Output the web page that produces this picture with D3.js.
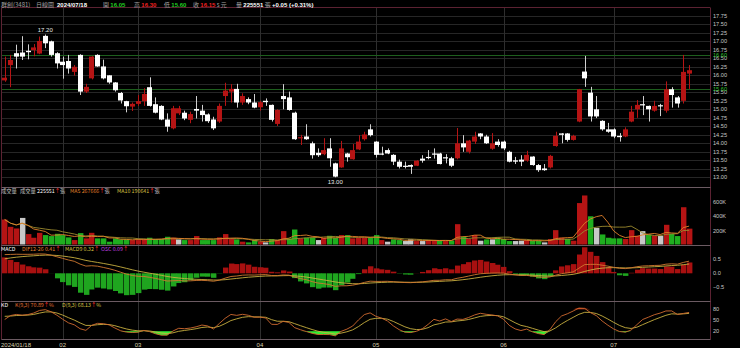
<!DOCTYPE html>
<html><head><meta charset="utf-8">
<script src="https://cdn.jsdelivr.net/npm/d3@7/dist/d3.min.js"></script>
<style>html,body{margin:0;padding:0;background:#000;}svg{display:block;}</style>
</head><body>
<svg id="c" width="740" height="348"></svg>
<script>
// ---------------- DATA ----------------
const opens = [15.85,16.30,16.65,16.67,16.72,16.74,16.64,17.16,17.00,16.65,
16.40,16.42,16.10,16.60,15.52,15.91,16.60,16.26,16.00,15.79,
15.48,15.24,15.08,15.16,15.24,15.65,15.15,15.10,14.70,14.44,
14.88,14.90,14.69,15.01,14.96,14.85,14.70,14.64,15.39,15.52,
15.60,15.20,15.30,15.20,15.06,15.25,15.13,14.57,15.39,15.35,
14.90,14.16,14.20,14.00,13.72,13.68,13.85,13.41,13.29,13.70,
13.53,13.82,14.12,14.41,14.05,13.70,13.80,13.66,13.46,13.34,
13.36,13.34,13.55,13.60,13.70,13.70,13.59,13.56,13.56,14.00,
13.75,14.05,14.29,14.20,13.84,14.05,14.05,13.75,13.50,13.52,
13.49,13.61,13.36,13.26,13.29,13.92,14.29,14.29,14.10,14.64,
16.11,15.49,15.00,14.66,14.41,14.41,14.22,14.20,14.64,15.00,
15.15,15.10,14.96,15.12,14.96,15.59,15.35,15.25,16.05];
const highs = [16.55,16.60,16.90,17.15,16.91,16.92,17.14,17.20,17.02,16.68,
16.55,16.60,16.30,16.62,15.75,16.56,16.62,16.46,16.00,15.80,
15.51,15.25,15.20,15.42,15.62,15.94,15.35,15.12,14.88,15.10,
15.10,14.96,14.93,15.39,15.13,14.88,14.78,15.17,15.78,15.74,
15.75,15.47,15.35,15.45,15.25,15.32,15.14,15.00,15.74,15.52,
14.93,14.25,14.56,14.05,13.85,14.15,14.15,13.43,14.07,13.72,
13.98,14.24,14.34,14.56,14.06,13.90,13.85,13.68,13.52,13.46,
13.38,13.50,13.65,13.80,13.85,13.72,13.68,13.60,14.45,14.24,
14.10,14.34,14.30,14.25,14.30,14.12,14.08,13.78,13.60,13.65,
13.78,13.62,13.39,13.39,13.66,14.34,14.30,14.30,14.25,15.60,
16.57,15.66,15.39,14.68,14.60,14.44,14.30,14.47,15.10,15.27,
15.39,15.11,15.25,15.16,15.82,15.65,15.39,16.60,16.30];
const lows = [15.81,15.65,16.20,16.45,16.47,16.56,16.62,16.80,16.55,16.20,
15.90,16.05,15.99,15.42,15.48,15.88,16.25,15.88,15.75,15.52,
15.17,14.91,14.95,15.10,15.10,15.08,14.88,14.68,14.34,14.41,
14.83,14.68,14.59,14.73,14.64,14.60,14.39,14.60,15.10,15.20,
15.05,15.13,15.15,15.03,14.96,15.10,14.64,14.51,15.00,14.96,
14.10,13.95,14.10,13.55,13.60,13.65,13.31,13.00,13.28,13.46,
13.52,13.80,14.08,14.20,13.58,13.65,13.68,13.36,13.26,13.26,
13.10,13.33,13.43,13.53,13.55,13.38,13.41,13.30,13.53,13.75,
13.70,13.98,14.12,13.98,13.81,13.90,13.80,13.44,13.39,13.33,
13.46,13.34,13.16,13.19,13.26,13.90,14.00,14.05,14.08,14.62,
15.66,14.64,14.74,14.37,14.31,14.15,14.05,14.18,14.62,14.75,
14.83,14.64,14.93,14.80,14.90,15.05,15.05,15.17,15.60];
const closes = [15.93,16.45,16.55,16.55,16.68,16.82,17.01,16.94,16.60,16.35,
16.30,16.20,16.25,15.52,15.66,16.55,16.26,15.91,15.79,15.56,
15.26,15.09,15.16,15.24,15.45,15.10,14.90,14.70,14.49,15.03,
15.03,14.73,14.86,14.96,14.83,14.65,14.44,15.10,15.55,15.60,
15.20,15.39,15.20,15.05,15.21,15.21,14.69,14.98,15.30,14.98,
14.12,14.18,14.12,13.65,13.65,13.80,13.56,13.02,13.85,13.59,
13.80,14.05,14.26,14.24,13.66,13.70,13.70,13.46,13.31,13.31,
13.31,13.49,13.49,13.60,13.70,13.39,13.59,13.34,14.00,13.88,
14.08,14.20,14.20,14.00,14.00,13.95,13.85,13.46,13.46,13.46,
13.66,13.36,13.21,13.21,13.63,14.22,14.25,14.10,14.22,15.59,
15.91,14.79,14.79,14.41,14.34,14.20,14.18,14.41,14.93,15.13,
15.13,15.00,15.10,15.10,15.59,15.42,15.17,16.10,16.15];
const volumes = [355000,251000,228000,378000,148000,96000,166000,134000,120000,152000,
134000,101000,63000,162000,87000,166000,87000,87000,40000,87000,
73000,73000,63000,63000,73000,96000,78000,78000,110000,96000,
73000,63000,63000,120000,63000,63000,63000,101000,148000,78000,
73000,40000,30000,63000,40000,30000,78000,63000,190000,87000,
213000,87000,96000,96000,63000,96000,124000,96000,134000,134000,
87000,96000,96000,96000,134000,63000,40000,73000,63000,49000,
73000,49000,49000,63000,63000,54000,49000,54000,289000,110000,
78000,134000,54000,73000,73000,101000,78000,49000,49000,54000,
63000,54000,54000,30000,78000,204000,96000,78000,54000,589000,
697000,401000,237000,143000,96000,87000,87000,78000,204000,124000,
190000,143000,124000,124000,280000,150000,120000,530000,225551];
const monthLabels = ["2024/01/18","02","03","04","05","06","07"];
const monthStarts = [0,10,23,44,64,86,105];
const priceTicks = [13.00,13.25,13.50,13.75,14.00,14.25,14.50,14.75,15.00,15.25,15.50,15.75,16.00,16.25,16.50,16.75,17.00,17.25,17.50,17.75];
const refLevels = [16.60,15.60];
const volTicks = [200000,400000,600000];
const macdTicks = [0.5,0.0,-0.5];
const kdTicks = [80,50,20];
// indicator state before the first bar (prior history)
const macdSeed = {ema12:15.70, ema26:15.00, signal:0.48};
const kdSeed = {k:70, d:65};

// ---------------- LAYOUT ----------------
const N = closes.length;
const L = 1.5, R = 710;
const svg = d3.select("#c");
svg.append("rect").attr("width",740).attr("height",348).attr("fill","#000");
const x = d3.scaleBand().domain(d3.range(N)).range([1.8, 1.8 + 5.8*N]).paddingInner(0.2).paddingOuter(0.1);
const cx = i => x(i) + x.bandwidth()/2;
const yP = d3.scaleLinear().domain([13,17.75]).range([177.3,15.8]);
const yV = d3.scaleLinear().domain([0,600000]).range([244.5,202.3]);
const yM = d3.scaleLinear().domain([-1,1]).range([301.3,245.3]);
const yK = d3.scaleLinear().domain([0,100]).range([338.6,301.9]);
const RED="#b51414", WHITE="#ffffff", GREEN="#1fae1f", GREY="#c8c8c8";
const num = "'Liberation Sans', Arial, sans-serif";
const cjk = "'Noto Sans CJK TC','Liberation Sans',sans-serif";

// grid
const g = svg.append("g");
g.selectAll(".hg").data(priceTicks).join("line")
  .attr("x1",L).attr("x2",R).attr("y1",d=>Math.round(yP(d))+0.5).attr("y2",d=>Math.round(yP(d))+0.5)
  .attr("stroke","#262626").attr("stroke-width",1);
g.selectAll(".vg").data(monthStarts.slice(1)).join("line")
  .attr("x1",d=>Math.round(cx(d))+0.5).attr("x2",d=>Math.round(cx(d))+0.5).attr("y1",7).attr("y2",339.5)
  .attr("stroke","#2e2e2e").attr("stroke-width",1);
g.selectAll(".rl").data(refLevels).join("line")
  .attr("x1",L).attr("x2",R).attr("y1",d=>Math.round(yP(d))+0.5).attr("y2",d=>Math.round(yP(d))+0.5)
  .attr("stroke","#1d5e1d").attr("stroke-width",1);

// borders
const bc = "#5c2232";
svg.append("line").attr("x1",L).attr("x2",R).attr("y1",7.5).attr("y2",7.5).attr("stroke",bc);
svg.append("line").attr("x1",L).attr("x2",L).attr("y1",7.5).attr("y2",339.5).attr("stroke",bc);
svg.append("line").attr("x1",R+0.5).attr("x2",R+0.5).attr("y1",7.5).attr("y2",339.5).attr("stroke",bc);
[187.5,245.5,301.5,339.5].forEach(yy=>svg.append("line").attr("x1",L).attr("x2",R+0.5).attr("y1",yy).attr("y2",yy).attr("stroke","#6b5a62"));

// candles
const idx = d3.range(N);
const cg = svg.append("g");
cg.selectAll(".wick").data(idx).join("line")
  .attr("x1",i=>Math.round(cx(i))+0.5).attr("x2",i=>Math.round(cx(i))+0.5)
  .attr("y1",i=>yP(highs[i])).attr("y2",i=>yP(lows[i]))
  .attr("stroke",i=>closes[i]>opens[i]?RED:"#d0d0d0").attr("stroke-width",1);
cg.selectAll(".body").data(idx).join("rect")
  .attr("x",i=>Math.round(x(i))).attr("width",Math.round(x.bandwidth()))
  .attr("y",i=>yP(Math.max(opens[i],closes[i])))
  .attr("height",i=>Math.max(1.2, yP(Math.min(opens[i],closes[i]))-yP(Math.max(opens[i],closes[i]))))
  .attr("fill",i=>closes[i]>opens[i]?RED:WHITE);

// max/min labels
const iMax = d3.maxIndex(highs), iMin = d3.minIndex(lows);
svg.append("text").attr("x",cx(iMax)).attr("y",yP(highs[iMax])-2.5).attr("text-anchor","middle")
  .attr("font-family",num).attr("font-size",6).attr("fill","#e8e8e8").text(d3.format(".2f")(highs[iMax]));
svg.append("text").attr("x",cx(iMin)).attr("y",yP(lows[iMin])+7).attr("text-anchor","middle")
  .attr("font-family",num).attr("font-size",6).attr("fill","#e8e8e8").text(d3.format(".2f")(lows[iMin]));

// price axis
const ax = svg.append("g").attr("font-family",num).attr("font-size",5.6);
ax.selectAll(".pt").data(priceTicks).join("text").attr("x",713).attr("y",d=>yP(d)+2.1).attr("fill","#c8c8c8").text(d=>d3.format(".2f")(d));
ax.selectAll(".rt").data(refLevels).join("text").attr("x",713).attr("y",d=>yP(d)+1.6).attr("fill","#2fbf2f").text(d=>d3.format(".2f")(d));

// volume
const volColor = i => { const prev = i>0?closes[i-1]:opens[i]; return closes[i]>prev+1e-9?RED:(closes[i]<prev-1e-9?GREEN:GREY); };
svg.append("g").selectAll("rect").data(idx).join("rect")
  .attr("x",i=>Math.round(x(i))).attr("width",Math.round(x.bandwidth())+0.4)
  .attr("y",i=>yV(volumes[i])).attr("height",i=>yV(0)-yV(volumes[i]))
  .attr("fill",volColor);
const ma = n => idx.map(i=>d3.mean(volumes.slice(Math.max(0,i-n+1),i+1)));
const ma5 = ma(5), ma10 = ma(10);
const vline = d3.line().x(i=>cx(i));
svg.append("path").attr("d",vline.y(i=>yV(ma10[i]))(idx)).attr("fill","none").attr("stroke","#9c8a2e").attr("stroke-width",0.9);
svg.append("path").attr("d",vline.y(i=>yV(ma5[i]))(idx)).attr("fill","none").attr("stroke","#e0802a").attr("stroke-width",0.9);
ax.selectAll(".vt").data(volTicks).join("text").attr("x",713).attr("y",d=>yV(d)+2.1).attr("fill","#c8c8c8").text(d=>(d/1000)+"K");

// MACD
let e12=macdSeed.ema12, e26=macdSeed.ema26, sg=macdSeed.signal;
const dif=[], sig=[], osc=[];
closes.forEach(c=>{ e12 += (c-e12)*2/13; e26 += (c-e26)*2/27; const d=e12-e26; sg += (d-sg)*2/10; dif.push(d); sig.push(sg); osc.push(d-sg); });
const oscMax = d3.max(osc,v=>Math.abs(v));
const yO = d3.scaleLinear().domain([-oscMax,oscMax]).range([yM(0)+26,yM(0)-26]);
svg.append("g").selectAll("rect").data(idx).join("rect")
  .attr("x",i=>Math.round(x(i))).attr("width",Math.round(x.bandwidth())+0.4)
  .attr("y",i=>Math.min(yO(osc[i]),yO(0))).attr("height",i=>Math.abs(yO(osc[i])-yO(0)))
  .attr("fill",i=>osc[i]>=0?"#a81010":"#1fa51f");
svg.append("path").attr("d",d3.line().x(i=>cx(i)).y(i=>yM(sig[i]))(idx)).attr("fill","none").attr("stroke","#c8b040").attr("stroke-width",0.9);
svg.append("path").attr("d",d3.line().x(i=>cx(i)).y(i=>yM(dif[i]))(idx)).attr("fill","none").attr("stroke","#d07830").attr("stroke-width",0.9);
ax.selectAll(".mt").data(macdTicks).join("text").attr("x",713).attr("y",d=>yM(d)+2.1).attr("fill","#c8c8c8").text(d=>d3.format(".1f")(d));

// KD
let kk=kdSeed.k, dd=kdSeed.d; const K=[], D=[];
idx.forEach(i=>{ const lo=d3.min(lows.slice(Math.max(0,i-8),i+1)), hi=d3.max(highs.slice(Math.max(0,i-8),i+1));
  const rsv = hi>lo?(closes[i]-lo)/(hi-lo)*100:50; kk = kk*2/3 + rsv/3; dd = dd*2/3 + kk/3; K.push(kk); D.push(dd); });
svg.append("path").attr("d",d3.area().x(i=>cx(i)).y0(yK(80)).y1(i=>yK(Math.max(K[i],80)))(idx)).attr("fill","#e03a1a");
svg.append("path").attr("d",d3.area().x(i=>cx(i)).y0(yK(20)).y1(i=>yK(Math.min(K[i],20)))(idx)).attr("fill","#33ee33");
svg.append("path").attr("d",d3.line().x(i=>cx(i)).y(i=>yK(D[i]))(idx)).attr("fill","none").attr("stroke","#c8b040").attr("stroke-width",0.9);
svg.append("path").attr("d",d3.line().x(i=>cx(i)).y(i=>yK(K[i]))(idx)).attr("fill","none").attr("stroke","#d06a30").attr("stroke-width",0.9);
ax.selectAll(".kt").data(kdTicks).join("text").attr("x",713).attr("y",d=>yK(d)+2.1).attr("fill","#c8c8c8").text(d=>d);

// date axis
svg.append("g").selectAll("text").data(monthStarts).join("text")
  .attr("x",(d,j)=>j===0?1:cx(d)).attr("y",346.5).attr("text-anchor",(d,j)=>j===0?"start":"middle")
  .attr("font-family",num).attr("font-size",6).attr("fill","#d6cfae").text((d,j)=>monthLabels[j]);

// header
function put(xp,yp,parts){ const t=svg.append("text").attr("x",xp).attr("y",yp).attr("font-size",6).attr("font-family",cjk);
  parts.forEach(p=>t.append("tspan").attr("fill",p[1]).attr("font-weight",p[2]?"bold":"normal").attr("font-family",p[3]||cjk).text(p[0])); }
put(1,6.8,[["群創(3481)","#a0a0a0"]]);
put(36,6.8,[["日線圖","#a0a0a0"]]);
put(57,6.8,[["2024/07/18","#ffffff",1,num]]);
put(103,6.8,[["開 ","#a0a0a0"],["16.05","#22cc22",1,num]]);
put(134,6.8,[["高 ","#a0a0a0"],["16.30","#ee2020",1,num]]);
put(164,6.8,[["低 ","#a0a0a0"],["15.60","#22cc22",1,num]]);
put(193,6.8,[["收 ","#a0a0a0"],["16.15","#ee2020",1,num],[" s 元","#a0a0a0"]]);
put(236,6.8,[["量 ","#a0a0a0"],["225551","#ffffff",1,num],[" 張 ","#a0a0a0"],["+0.05 (+0.31%)","#ffffff",1,num]]);

// panel legends
function leg(xp,yp,parts){ const t=svg.append("text").attr("x",xp).attr("y",yp).attr("font-size",5.3).attr("font-family",cjk);
  parts.forEach(p=>t.append("tspan").attr("fill",p[1]).text(p[0])); }
leg(1,193,[["成交量","#c0c0c0"]]);
leg(20,193,[["成交量 ","#c0c0c0"],["225551","#ffffff"],["↑","#ff2a2a"],["張","#c0c0c0"]]);
leg(70,193,[["MA5 267666","#e0802a"],["↑","#ff2a2a"],["張","#c0c0c0"]]);
leg(117,193,[["MA10 190641","#d8c040"],["↑","#ff2a2a"],["張","#c0c0c0"]]);
leg(1,250.5,[["MACD","#ffffff"]]);
leg(22,250.5,[["DIF12-26 0.41","#e08030"],["↑","#ff2a2a"]]);
leg(65,250.5,[["MACD9 0.32","#d8c040"],["↑","#ff2a2a"]]);
leg(101,250.5,[["OSC 0.09","#c040e0"],["↑","#ff2a2a"]]);
leg(1,307,[["KD","#ffffff"]]);
leg(15,307,[["K(9,3) 70.89","#e07030"],["↑","#ff2a2a"],["%","#e07030"]]);
leg(62,307,[["D(9,3) 68.13","#d8c040"],["↑","#ff2a2a"],["%","#d8c040"]]);
</script>
</body></html>
